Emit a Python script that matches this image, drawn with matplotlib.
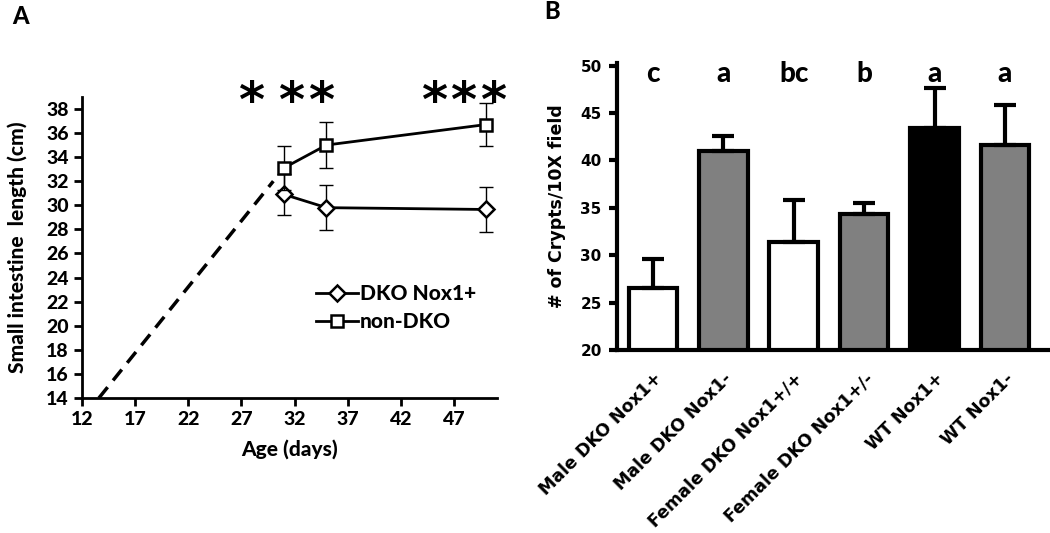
import matplotlib.pyplot as plt

# Panel A data
age = [31, 35, 50]
dko = [30.9, 29.8, 29.65]
dko_err = [1.7, 1.85, 1.9]
non_dko = [33.1, 35.0, 36.7]
non_dko_err = [1.8, 1.9, 1.75]
trend_x = [13.6, 30.0]
trend_y = [14.0, 32.0]
star_x = [27.9, 31.7, 34.5, 45.1, 47.8, 50.7]

# Panel B data
groups = ["Male DKO Nox1+", "Male DKO Nox1-", "Female DKO Nox1+/+",
          "Female DKO Nox1+/-", "WT Nox1+", "WT Nox1-"]
crypts = [26.5, 41.0, 31.4, 34.4, 43.4, 41.6]
crypts_err = [3.1, 1.6, 4.4, 1.1, 4.3, 4.3]
letters = ["c", "a", "bc", "b", "a", "a"]
bar_colors = ["white", "#808080", "white", "#808080", "black", "#808080"]

plt.rcParams["font.family"] = ["Lato", "DejaVu Sans"]
W = "black"  # heavy weight for the Calibri-like text

fig = plt.figure(figsize=(10.5, 5.33), dpi=100)

# ---- Panel A ----
ax = fig.add_axes([0.078, 0.2533, 0.395, 0.565])
ax.plot(trend_x, trend_y, color="black", lw=2.5, ls=(0, (4, 2.5)))
for y, e, m, ms, lab in [(dko, dko_err, "D", 8, "DKO Nox1+"),
                         (non_dko, non_dko_err, "s", 9, "non-DKO")]:
    ax.errorbar(age, y, yerr=e, fmt="none", ecolor="black", elinewidth=1,
                capsize=5, capthick=1)
    ax.plot(age, y, color="black", lw=2, marker=m, ms=ms, mfc="white",
            mec="black", mew=1.8, label=lab)
for sx in star_x:
    ax.text(sx, 38.5, "*", ha="center", va="center", fontsize=36,
            family="DejaVu Sans", fontweight="bold", clip_on=False)
ax.set_xlim(12, 51)
ax.set_ylim(14, 39)
ax.set_xticks(range(12, 50, 5))
ax.set_yticks(range(14, 39, 2))
ax.spines["top"].set_visible(False)
ax.spines["right"].set_visible(False)
for s in ["left", "bottom"]:
    ax.spines[s].set_linewidth(2)
ax.tick_params(width=2, length=6, labelsize=14)
for lbl in ax.get_xticklabels() + ax.get_yticklabels():
    lbl.set_fontweight(W)
ax.set_xlabel("Age (days)", fontsize=15, fontweight=W, labelpad=8)
ax.set_ylabel("Small intestine  length (cm)", fontsize=15, fontweight=W, labelpad=14)
leg = ax.legend(loc="center left", bbox_to_anchor=(0.52, 0.30), frameon=False,
                fontsize=15, handlelength=2.0, handletextpad=0.1, labelspacing=0.45)
for t in leg.get_texts():
    t.set_fontweight(W)
fig.text(0.012, 0.955, "A", fontsize=17, fontweight=W)

# ---- Panel B ----
bx = fig.add_axes([0.5876, 0.3433, 0.4124, 0.5387])
xpos = range(len(groups))
bx.bar(xpos, crypts, width=0.69, color=bar_colors, edgecolor="black", lw=3,
       yerr=[[0] * len(crypts_err), crypts_err], capsize=8,
       error_kw=dict(elinewidth=3, capthick=3, ecolor="black"), zorder=2)
for i, lt in enumerate(letters):
    bx.text(i, 49.1, lt, ha="center", va="center", fontsize=20, fontweight=W)
bx.set_xlim(-0.51, 5.64)
bx.set_ylim(20, 50.3)
bx.set_yticks(range(20, 51, 5))
bx.set_xticks(list(xpos))
bx.set_xticklabels(groups, rotation=45, ha="right", rotation_mode="anchor",
                   fontsize=12.5, fontweight="bold", family="DejaVu Sans")
for lbl in bx.get_yticklabels():
    lbl.set_fontweight("bold")
    lbl.set_family("DejaVu Sans")
bx.tick_params(axis="y", width=3, length=6, labelsize=11, pad=5)
bx.tick_params(axis="x", length=0, pad=14)
bx.spines["top"].set_visible(False)
bx.spines["right"].set_visible(False)
for s in ["left", "bottom"]:
    bx.spines[s].set_linewidth(3)
bx.set_ylabel("# of Crypts/10X field", fontsize=12.5, fontweight="bold",
              family="DejaVu Sans", labelpad=10)
fig.text(0.518, 0.965, "B", fontsize=17, fontweight=W)

fig.savefig("out.png", dpi=100)
